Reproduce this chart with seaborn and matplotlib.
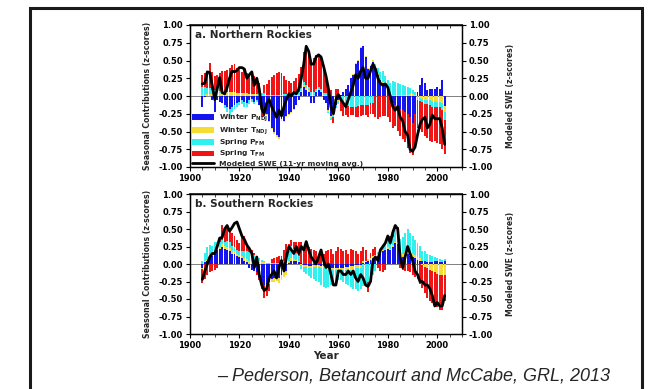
import numpy as np
import seaborn as sns
import matplotlib.pyplot as plt
from matplotlib.patches import Rectangle, Patch
from matplotlib.lines import Line2D
from matplotlib.ticker import MultipleLocator

sns.set_theme(style="ticks")
plt.rcParams['font.family'] = ['DejaVu Sans']
plt.rcParams['font.weight'] = 'bold'
plt.rcParams['axes.labelweight'] = 'bold'

years = list(range(1905, 2004))

# a. Northern Rockies (z-score contributions)
north_winter_p = [-0.15, -0.02, 0.00, 0.00, -0.05, -0.22,
                  -0.05, -0.08, -0.10, -0.12, -0.15, -0.18, -0.15, -0.12, -0.10, -0.08,
                  -0.05, -0.08, -0.10, -0.06, -0.04, -0.08, -0.05, -0.12, -0.20, -0.28,
                  -0.25, -0.35, -0.45, -0.50, -0.55, -0.58, -0.32, -0.35, -0.28, -0.25,
                  -0.22, -0.18, -0.12, -0.05, 0.05, 0.12, 0.08, 0.06, -0.10, -0.10,
                  0.05, 0.08, 0.05, -0.05, -0.10, -0.20, -0.28, -0.25, -0.12, -0.05,
                  0.02, 0.05, 0.10, 0.15, 0.25, 0.30, 0.45, 0.50, 0.68, 0.70,
                  0.55, 0.38, 0.42, 0.48, 0.38, 0.30, 0.22, 0.18, 0.15, 0.12,
                  -0.05, -0.10, -0.12, -0.15, -0.18, -0.20, -0.22, -0.25, -0.30, -0.38,
                  -0.25, 0.05, 0.15, 0.25, 0.18, 0.08, 0.10, 0.10, 0.10, 0.12,
                  0.10, 0.22, -0.14]
north_winter_t = [0.02, 0.02, 0.03, 0.03, 0.03, 0.03,
                  0.04, 0.04, 0.05, 0.05, 0.05, 0.05, 0.05, 0.05, 0.04, 0.04,
                  0.04, 0.04, 0.04, 0.03, 0.03, 0.03, 0.03, 0.02, 0.02, 0.02,
                  -0.02, -0.02, -0.02, -0.03, -0.03, -0.03, -0.03, -0.02, -0.02, -0.02,
                  -0.02, -0.02, 0.02, 0.02, 0.02, 0.03, 0.03, 0.03, 0.02, 0.02,
                  0.02, 0.02, 0.02, 0.02, 0.02, -0.02, -0.03, -0.02, -0.02, -0.02,
                  0.00, 0.00, 0.00, 0.01, 0.01, 0.01, 0.01, 0.01, 0.01, 0.01,
                  0.01, 0.02, 0.02, 0.03, 0.02, 0.02, 0.02, 0.02, 0.01, 0.01,
                  0.01, 0.01, 0.02, 0.02, 0.02, 0.02, 0.02, 0.02, 0.03, 0.03,
                  0.02, -0.02, -0.03, -0.04, -0.05, -0.05, -0.06, -0.07, -0.07, -0.08,
                  -0.08, -0.10, -0.08]
north_spring_p = [0.10, 0.10, 0.08, 0.08, 0.06, 0.05,
                  0.04, 0.03, 0.02, -0.05, -0.08, -0.10, -0.08, -0.06, -0.05, -0.04,
                  -0.06, -0.08, -0.06, -0.05, -0.04, -0.03, -0.03, 0.02, 0.02, 0.02,
                  0.02, 0.02, 0.02, 0.02, 0.02, 0.02, 0.02, 0.03, 0.03, 0.03,
                  0.03, 0.03, 0.03, 0.04, 0.04, 0.05, 0.05, 0.04, 0.03, 0.03,
                  0.03, 0.03, 0.03, 0.02, 0.02, -0.02, -0.03, -0.03, -0.03, -0.04,
                  -0.06, -0.10, -0.12, -0.14, -0.15, -0.15, -0.15, -0.14, -0.13, -0.12,
                  -0.12, -0.12, -0.10, -0.10, 0.05, 0.08, 0.10, 0.15, 0.12, 0.10,
                  0.18, 0.20, 0.18, 0.16, 0.15, 0.14, 0.12, 0.10, 0.08, 0.06,
                  0.04, -0.03, -0.04, -0.05, -0.06, -0.06, -0.07, -0.08, -0.08, -0.08,
                  -0.08, -0.10, -0.12]
north_spring_t = [0.18, 0.20, 0.22, 0.36, 0.25, 0.20,
                  0.22, 0.25, 0.28, 0.30, 0.32, 0.35, 0.38, 0.40, 0.35, 0.32,
                  0.30, 0.32, 0.28, 0.25, 0.30, 0.25, 0.22, 0.15, -0.10, 0.12,
                  0.15, 0.20, 0.25, 0.28, 0.30, 0.32, 0.30, 0.25, 0.20, 0.18,
                  0.15, 0.18, 0.20, 0.25, 0.30, 0.42, 0.55, 0.48, 0.45, 0.48,
                  0.48, 0.45, 0.45, 0.38, 0.25, 0.12, 0.08, -0.08, 0.10, 0.10,
                  -0.15, -0.18, -0.15, -0.15, -0.12, -0.12, -0.15, -0.16, -0.15, -0.15,
                  -0.15, -0.18, -0.16, -0.15, -0.30, -0.32, -0.30, -0.28, -0.28, -0.30,
                  -0.32, -0.35, -0.30, -0.35, -0.38, -0.40, -0.43, -0.48, -0.50, -0.45,
                  -0.45, -0.40, -0.40, -0.42, -0.45, -0.48, -0.50, -0.50, -0.48, -0.50,
                  -0.52, -0.55, -0.48]
north_swe = [0.17, 0.18, 0.34, 0.33, 0.15, -0.05,
             0.10, 0.26, 0.05, 0.03, 0.12, 0.25, 0.35, 0.34, 0.36, 0.40,
             0.40, 0.38, 0.25, 0.30, 0.34, 0.15, 0.25, 0.10, -0.18, -0.25,
             -0.10, -0.05, -0.15, -0.22, -0.30, -0.20, -0.28, -0.15, -0.05, 0.03,
             0.00, 0.05, 0.03, 0.10, 0.25, 0.45, 0.70, 0.63, 0.45, 0.45,
             0.55, 0.58, 0.55, 0.42, 0.28, 0.10, -0.15, -0.25, -0.05, 0.02,
             -0.05, -0.10, -0.15, -0.05, 0.05, 0.15, 0.30, 0.25, 0.35, 0.40,
             0.25, 0.25, 0.35, 0.45, 0.38, 0.25, 0.18, 0.15, 0.17, 0.12,
             0.00, -0.15, -0.20, -0.15, -0.30, -0.35, -0.50, -0.55, -0.75, -0.78,
             -0.72, -0.55, -0.40, -0.33, -0.30, -0.45, -0.40, -0.27, -0.32, -0.32,
             -0.32, -0.45, -0.68]

# b. Southern Rockies
south_winter_p = [-0.05, 0.03, 0.05, 0.10, 0.12, 0.15,
                  0.20, 0.22, 0.25, 0.22, 0.20, 0.18, 0.15, 0.15, 0.12, 0.10,
                  0.08, 0.05, 0.03, -0.05, -0.08, -0.10, -0.12, -0.18, -0.25, -0.30,
                  -0.28, -0.25, -0.22, -0.20, -0.18, -0.20, -0.15, -0.12, -0.10, 0.02,
                  0.05, 0.05, 0.04, 0.03, 0.02, -0.02, -0.02, -0.03, -0.03, -0.02,
                  -0.02, -0.02, -0.03, -0.03, -0.04, -0.05, -0.05, -0.06, -0.06, -0.05,
                  -0.05, -0.05, -0.04, -0.04, -0.03, -0.03, -0.02, -0.02, -0.02, 0.02,
                  0.03, 0.05, 0.06, 0.08, 0.10, 0.12, 0.15, 0.18, 0.20, 0.22,
                  0.20, 0.25, 0.30, 0.28, 0.15, 0.10, 0.12, 0.15, 0.12, 0.10,
                  0.08, 0.06, 0.05, 0.04, 0.04, 0.03, 0.03, 0.03, 0.04, 0.04,
                  0.03, 0.03, 0.04]
south_winter_t = [-0.02, 0.01, 0.01, 0.02, 0.02, 0.02,
                  0.03, 0.03, 0.04, 0.04, 0.05, 0.05, 0.04, 0.04, 0.03, 0.03,
                  0.03, 0.03, 0.04, 0.05, 0.05, 0.05, 0.05, 0.04, 0.03, 0.03,
                  -0.02, -0.03, -0.04, -0.05, -0.06, -0.07, -0.08, -0.06, -0.05, 0.03,
                  0.03, 0.02, 0.02, 0.02, -0.02, -0.02, -0.02, -0.02, -0.02, -0.02,
                  -0.02, -0.02, -0.02, -0.02, -0.02, -0.03, -0.03, -0.03, -0.03, -0.03,
                  -0.03, -0.03, -0.04, -0.04, -0.05, -0.05, -0.04, -0.04, -0.03, 0.02,
                  0.02, 0.02, 0.02, 0.03, 0.03, 0.03, 0.03, 0.02, 0.02, 0.02,
                  0.02, 0.02, 0.02, 0.02, 0.03, 0.04, 0.05, 0.05, 0.05, 0.05,
                  0.05, 0.04, 0.03, -0.02, -0.04, -0.06, -0.08, -0.10, -0.12, -0.14,
                  -0.15, -0.15, -0.15]
south_spring_p = [0.05, 0.12, 0.18, 0.15, 0.12, 0.15,
                  0.08, 0.06, 0.05, 0.06, 0.08, 0.08, 0.07, 0.06, 0.05, 0.05,
                  0.08, 0.10, 0.12, 0.12, 0.10, 0.08, 0.06, 0.05, 0.03, 0.02,
                  0.02, 0.02, 0.02, 0.02, 0.02, 0.02, 0.03, 0.05, 0.10, 0.18,
                  0.18, 0.15, 0.10, 0.06, -0.05, -0.08, -0.10, -0.12, -0.15, -0.18,
                  -0.20, -0.22, -0.25, -0.28, -0.28, -0.25, -0.22, -0.20, -0.18, -0.15,
                  -0.15, -0.18, -0.20, -0.22, -0.25, -0.28, -0.30, -0.32, -0.30, -0.32,
                  -0.30, -0.25, -0.20, -0.15, -0.10, 0.02, 0.03, 0.05, 0.08, 0.10,
                  0.10, 0.12, 0.18, 0.20, 0.18, 0.25, 0.28, 0.30, 0.28, 0.25,
                  0.22, 0.20, 0.18, 0.15, 0.14, 0.12, 0.10, 0.08, 0.06, 0.05,
                  0.04, 0.03, 0.03]
south_spring_t = [-0.20, -0.22, -0.15, -0.12, -0.10, -0.08,
                  -0.05, 0.08, 0.22, 0.20, 0.18, 0.15, 0.18, 0.15, 0.15, 0.12,
                  0.20, 0.22, 0.10, 0.05, 0.05, 0.03, -0.03, -0.05, -0.10, -0.18,
                  -0.15, -0.10, 0.05, 0.06, 0.08, 0.10, 0.08, 0.15, 0.18, 0.05,
                  0.08, 0.10, 0.15, 0.20, 0.30, 0.25, 0.28, 0.25, 0.22, 0.20,
                  0.18, 0.15, 0.15, 0.15, 0.18, 0.20, 0.22, 0.15, 0.18, 0.25,
                  0.22, 0.18, 0.20, 0.15, 0.22, 0.20, 0.18, 0.15, 0.18, 0.20,
                  0.15, -0.15, 0.08, 0.10, 0.12, -0.05, -0.10, -0.12, -0.08, 0.05,
                  0.08, 0.10, 0.05, 0.03, -0.05, -0.08, -0.10, -0.10, -0.12, -0.15,
                  -0.18, -0.22, -0.28, -0.32, -0.38, -0.42, -0.45, -0.45, -0.48, -0.48,
                  -0.50, -0.50, -0.38]
south_swe = [-0.22, -0.10, 0.00, 0.10, 0.15, 0.15,
             0.25, 0.37, 0.38, 0.50, 0.55, 0.47, 0.52, 0.58, 0.60, 0.50,
             0.40, 0.35, 0.27, 0.22, 0.15, -0.05, 0.10, -0.15, -0.30, -0.38,
             -0.35, -0.20, -0.15, -0.10, -0.20, -0.05, 0.05, -0.10, 0.10, 0.25,
             0.20, 0.15, 0.25, 0.15, 0.25, 0.20, 0.32, 0.20, 0.10, 0.05,
             0.00, 0.10, 0.20, 0.05, -0.05, 0.00, -0.15, -0.30, -0.30, -0.10,
             -0.10, -0.15, -0.15, -0.10, -0.15, -0.10, -0.20, -0.25, -0.15, -0.20,
             -0.30, -0.32, -0.25, 0.05, 0.10, 0.05, 0.20, 0.25, 0.30, 0.40,
             0.30, 0.45, 0.55, 0.50, 0.10, -0.05, 0.10, 0.25, 0.15, 0.05,
             -0.10, -0.15, -0.25, -0.25, -0.30, -0.30, -0.35, -0.45, -0.60, -0.55,
             -0.60, -0.60, -0.45]

labels = [r"Winter P$_{\mathregular{NDJ}}$", r"Winter T$_{\mathregular{NDJ}}$",
          r"Spring P$_{\mathregular{FM}}$", r"Spring T$_{\mathregular{FM}}$"]
colors = ["#1414f0", "#f8dc36", "#30f0f0", "#f01414"]
yticks = [-1.0, -0.75, -0.5, -0.25, 0.0, 0.25, 0.5, 0.75, 1.0]

W, H = 650, 389
fig = plt.figure(figsize=(W / 100, H / 100), dpi=100)
fig.patch.set_facecolor("white")

# outer frame
fig.patches.append(Rectangle((30 / W, -0.05), (642 - 30) / W, 1 - 8 / H + 0.05,
                             transform=fig.transFigure, fill=False,
                             edgecolor="#1a1a1a", linewidth=2.2))


def panel(rect, comps, swe, title, show_legend, show_xlabel):
    ax = fig.add_axes(rect)
    pos = np.zeros(len(years))
    neg = np.zeros(len(years))
    for vals, c in zip(comps, colors):
        v = np.array(vals)
        base = np.where(v >= 0, pos, neg)
        ax.bar(years, v, bottom=base, width=0.8, color=c, linewidth=0, zorder=2)
        pos += np.clip(v, 0, None)
        neg += np.clip(v, None, 0)
    ax.axhline(0, color="#808080", lw=0.7, zorder=1)
    sns.lineplot(x=years, y=swe, ax=ax, color="black", linewidth=2.0, zorder=3)

    ax.set_xlim(1900, 2010)
    ax.set_ylim(-1, 1)
    ax.set_yticks(yticks)
    ax.set_yticklabels([f"{t:.2f}" for t in yticks])
    ax.set_xticks(range(1900, 2001, 20))
    ax.xaxis.set_minor_locator(MultipleLocator(5))
    ax.tick_params(axis="both", which="major", direction="out", length=3,
                   width=0.8, labelsize=6, colors="black", pad=2)
    ax.tick_params(axis="x", which="minor", direction="out", length=1.8, width=0.6)
    for s in ax.spines.values():
        s.set_color("black")
        s.set_linewidth(0.9)
    ax.set_ylabel("Seasonal Contributions (z-scores)", fontsize=5.6, labelpad=5)
    if show_xlabel:
        ax.set_xlabel("Year", fontsize=7.5, labelpad=1)
    else:
        ax.set_xlabel("")

    top = ax.secondary_xaxis("top")
    top.set_xticks(range(1900, 2001, 20))
    top.xaxis.set_minor_locator(MultipleLocator(5))
    top.tick_params(which="major", direction="in", length=3, width=0.8, labeltop=False)
    top.tick_params(which="minor", direction="in", length=1.8, width=0.6)

    ax2 = ax.twinx()
    ax2.set_ylim(-1, 1)
    ax2.set_yticks(yticks)
    ax2.set_yticklabels([f"{t:.2f}" for t in yticks])
    ax2.tick_params(axis="y", direction="out", length=3, width=0.8,
                    labelsize=6, colors="black", pad=2)
    ax2.set_ylabel("Modeled SWE (z-scores)", fontsize=5.5, labelpad=9)
    for s in ax2.spines.values():
        s.set_color("black")
        s.set_linewidth(0.9)

    ax.text(0.018, 0.93, title, transform=ax.transAxes, fontsize=7.5,
            va="center", ha="left", zorder=5)

    if show_legend:
        handles = [Patch(facecolor=c, edgecolor="none") for c in colors]
        handles.append(Line2D([0], [0], color="black", lw=2.0))
        ax.legend(handles, labels + ["Modeled SWE (11-yr moving avg.)"],
                  loc="lower left", bbox_to_anchor=(0.0, -0.01), frameon=False,
                  fontsize=5.4, handlelength=3.0, handleheight=0.8,
                  handletextpad=0.7, labelspacing=0.15, borderpad=0.2,
                  borderaxespad=0.0)
    return ax


panel([190 / W, 1 - 167 / H, 272 / W, 142 / H],
      [north_winter_p, north_winter_t, north_spring_p, north_spring_t],
      north_swe, "a. Northern Rockies", True, False)
panel([190 / W, 1 - 334 / H, 272 / W, 140 / H],
      [south_winter_p, south_winter_t, south_spring_p, south_spring_t],
      south_swe, "b. Southern Rockies", False, True)

fig.text(610 / W, 1 - 376 / H, "\u2013 Pederson, Betancourt and McCabe, GRL, 2013",
         ha="right", va="center", fontsize=13, style="italic", fontweight="normal",
         family=["Liberation Sans", "DejaVu Sans"])

fig.savefig("out.png", dpi=100)
